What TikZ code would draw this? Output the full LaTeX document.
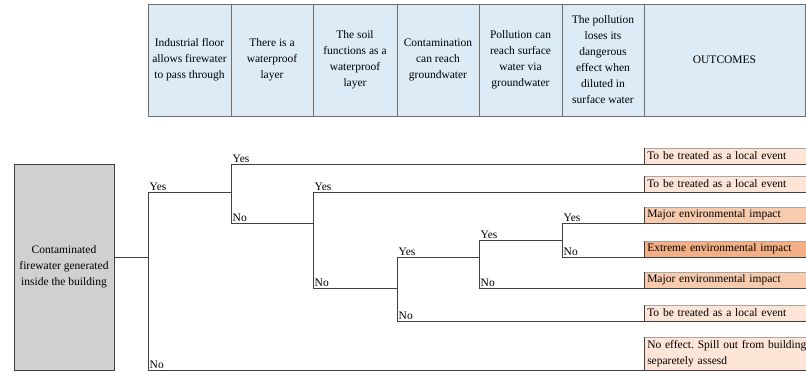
\documentclass[tikz,border=0pt]{standalone}
\usepackage{fontspec}
\setmainfont{Liberation Serif}
\definecolor{hdrfill}{HTML}{DDEBF7}
\definecolor{hdrline}{HTML}{6E6E6E}
\definecolor{treeline}{HTML}{404040}
\definecolor{srcfill}{HTML}{D0D0D0}
\definecolor{lowfill}{HTML}{FCE4D6}
\definecolor{majfill}{HTML}{F8CBAD}
\definecolor{extfill}{HTML}{F4B084}
\frenchspacing
\begin{document}
\begin{tikzpicture}[x=1pt,y=-1pt,
  font=\fontsize{11.5}{16}\selectfont,
  hcell/.style={draw=hdrline, fill=hdrfill, line width=0.8pt, inner sep=1pt,
    minimum height=112pt, align=center, minimum width=#1},
  branch/.style={draw=treeline, line width=0.8pt},
  lbl/.style={anchor=south west, inner sep=1.5pt, text=black},
  outbox/.style={draw=black!35, line width=0.5pt, fill=#1, anchor=south west,
    minimum width=180pt, minimum height=16pt, inner sep=2pt, align=left, text width=174pt},
  leftedge/.style={draw=treeline, line width=0.8pt}]
\useasboundingbox (0,0) rectangle (806,372);
\clip (0,0) rectangle (806,372);

% column headers
\node[hcell=83pt]  (h1) at (189.5,60) {Industrial floor\\allows firewater\\to pass through};
\node[hcell=82pt]  (h2) at (272,60)   {There is a\\waterproof\\layer};
\node[hcell=84pt]  (h3) at (355,60)   {The soil\\functions as a\\waterproof\\layer};
\node[hcell=82pt]  (h4) at (438,60)   {Contamination\\can reach\\groundwater};
\node[hcell=83pt]  (h5) at (520.5,60) {Pollution can\\reach surface\\water via\\groundwater};
\node[hcell=82pt]  (h6) at (603,60)   {The pollution\\loses its\\dangerous\\effect when\\diluted in\\surface water};
\node[hcell=161pt] (h7) at (724.5,60) {OUTCOMES};

% initiating event
\node[draw=treeline, fill=srcfill, line width=0.8pt, minimum width=100pt,
  minimum height=206pt, align=center, inner sep=1pt] (src) at (64,267)
  {Contaminated\\firewater generated\\inside the building};

% branch points
\coordinate (a)  at (148,257);
\coordinate (aY) at (148,192);
\coordinate (aN) at (148,370);
\coordinate (b)  at (231,192);
\coordinate (bY) at (231,164);
\coordinate (bN) at (231,223);
\coordinate (c)  at (313,223);
\coordinate (cY) at (313,192);
\coordinate (cN) at (313,288);
\coordinate (d)  at (397,288);
\coordinate (dY) at (397,257);
\coordinate (dN) at (397,321);
\coordinate (e)  at (479,257);
\coordinate (eY) at (479,240);
\coordinate (eN) at (479,288);
\coordinate (f)  at (562,240);
\coordinate (fY) at (562,223);
\coordinate (fN) at (562,257);

% outcomes
\node[outbox=lowfill] (o1) at (644,164) {To be treated as a local event};
\node[outbox=lowfill] (o2) at (644,192) {To be treated as a local event};
\node[outbox=majfill] (o3) at (644,223) {Major environmental impact};
\node[outbox=extfill] (o4) at (644,257) {Extreme environmental impact};
\node[outbox=majfill] (o5) at (644,288) {Major environmental impact};
\node[outbox=lowfill] (o6) at (644,321) {To be treated as a local event};
\node[outbox=lowfill, minimum height=33pt, inner sep=1.5pt,
  font=\fontsize{11.5}{16}\selectfont] (o7) at (644,370)
  {No effect. Spill out from building\\separetely assesd};
\foreach \o in {o1,o2,o3,o4,o5,o6,o7}
  \draw[leftedge] (\o.south west) -- (\o.north west);

% tree connectors
\draw[branch] (src.east |- a) -- (a);
\draw[branch] (aY) -- (aN);
\draw[branch] (aY) -- (b);
\draw[branch] (bY) -- (bN);
\draw[branch] (bY) -- (o1.south east);
\draw[branch] (bN) -- (c);
\draw[branch] (cY) -- (cN);
\draw[branch] (cY) -- (o2.south east);
\draw[branch] (cN) -- (d);
\draw[branch] (dY) -- (dN);
\draw[branch] (dY) -- (e);
\draw[branch] (eY) -- (eN);
\draw[branch] (eY) -- (f);
\draw[branch] (fY) -- (fN);
\draw[branch] (fY) -- (o3.south east);
\draw[branch] (fN) -- (o4.south east);
\draw[branch] (eN) -- (o5.south east);
\draw[branch] (dN) -- (o6.south east);
\draw[branch] (aN) -- (o7.south east);

% branch labels
\node[lbl] (laY) at (aY) {Yes};
\node[lbl] (laN) at (aN) {No};
\node[lbl] (lbY) at (bY) {Yes};
\node[lbl] (lbN) at (bN) {No};
\node[lbl] (lcY) at (cY) {Yes};
\node[lbl] (lcN) at (cN) {No};
\node[lbl] (ldY) at (dY) {Yes};
\node[lbl] (ldN) at (dN) {No};
\node[lbl] (leY) at (eY) {Yes};
\node[lbl] (leN) at (eN) {No};
\node[lbl] (lfY) at (fY) {Yes};
\node[lbl] (lfN) at (fN) {No};
\end{tikzpicture}
\end{document}
